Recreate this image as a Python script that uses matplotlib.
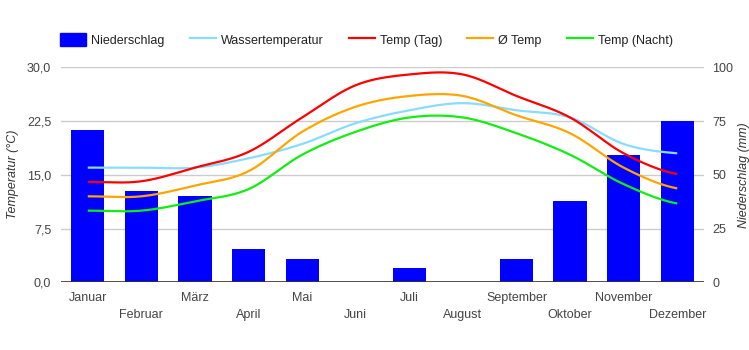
# Klimadiagramm: Niederschlag (Balken, rechte Achse) und Temperaturen (Linien, linke Achse)
import numpy as np
import matplotlib.pyplot as plt
from matplotlib.patches import Patch
from matplotlib.lines import Line2D

plt.rcParams['font.family'] = ['Liberation Sans', 'DejaVu Sans']

months = ['Januar', 'Februar', 'März', 'April', 'Mai', 'Juni',
          'Juli', 'August', 'September', 'Oktober', 'November', 'Dezember']
niederschlag = [71, 42.5, 40, 15.5, 11, 0.3, 6.8, 0.3, 11, 38, 59, 75]
wasser = [16, 16, 16, 17.3, 19.3, 22.2, 24, 25, 24, 23, 19.3, 18]
temp_tag = [14, 14.1, 16, 18.2, 23, 27.5, 29, 29, 26, 23, 18, 15.1]
temp_avg = [12, 12, 13.5, 15.5, 21, 24.5, 26, 26, 23.3, 20.8, 16, 13.1]
temp_nacht = [10, 10, 11.3, 13, 17.8, 21, 23, 23, 20.8, 17.8, 13.7, 11]

temp_ticks = [0, 7.5, 15, 22.5, 30]
mm_ticks = [0, 25, 50, 75, 100]


def smooth(y, steps=30):
    # Catmull-Rom Kurve durch die Monatswerte (nur Darstellung)
    y = np.asarray(y, dtype=float)
    p = np.concatenate([[y[0]], y, [y[-1]]])
    xs, ys = [], []
    for i in range(len(y) - 1):
        t = np.linspace(0, 1, steps, endpoint=False)
        p0, p1, p2, p3 = p[i], p[i + 1], p[i + 2], p[i + 3]
        yy = 0.5 * ((2 * p1) + (-p0 + p2) * t + (2 * p0 - 5 * p1 + 4 * p2 - p3) * t**2
                    + (-p0 + 3 * p1 - 3 * p2 + p3) * t**3)
        xs.append(i + t)
        ys.append(yy)
    xs.append([len(y) - 1])
    ys.append([y[-1]])
    return np.concatenate(xs), np.concatenate(ys)


fig = plt.figure(figsize=(7.49, 3.5), dpi=100)
ax_t = fig.add_axes([0.0814, 0.1934, 0.8586, 0.6143])
ax_p = ax_t.twinx()

x = np.arange(len(months))

# Balken + Gitter auf der rechten Achse
ax_p.bar(x, niederschlag, width=0.62, color='#0000ff', zorder=2)
ax_p.set_ylim(0, 100)
ax_p.set_yticks(mm_ticks)
ax_p.set_yticklabels([str(v) for v in mm_ticks])
ax_p.grid(axis='y', color='#cccccc', linewidth=1)
ax_p.set_axisbelow(True)
ax_p.set_ylabel('Niederschlag (mm)', style='italic', color='#333333', fontsize=9, labelpad=3)

# Linien auf der linken Achse, vor den Balken
ax_t.set_zorder(ax_p.get_zorder() + 1)
ax_t.patch.set_visible(False)
series = [(wasser, '#87dcff'), (temp_tag, '#ff0000'), (temp_avg, '#ffa500'), (temp_nacht, '#11ee11')]
for vals, col in series:
    xs, ys = smooth(vals)
    ax_t.plot(xs, ys, color=col, linewidth=1.6, solid_capstyle='butt')
ax_t.set_ylim(0, 30)
ax_t.set_yticks(temp_ticks)
ax_t.set_yticklabels([f'{v:.1f}'.replace('.', ',') for v in temp_ticks])
ax_t.set_ylabel('Temperatur (°C)', style='italic', color='#333333', fontsize=9, labelpad=6)

ax_t.set_xlim(-0.5, len(months) - 0.5)
ax_t.set_xticks(x)
ax_t.set_xticklabels([m if i % 2 == 0 else '\n' + m for i, m in enumerate(months)],
                     linespacing=1.6, va='top')

for a in (ax_t, ax_p):
    for s in a.spines.values():
        s.set_visible(False)
    a.tick_params(length=0, labelsize=9, labelcolor='#444444')
ax_t.tick_params(axis='y', pad=7)
ax_p.tick_params(axis='y', pad=6)
ax_t.tick_params(axis='x', pad=7)
ax_t.axhline(0, color='#333333', linewidth=1.2, zorder=5)

handles = [Patch(color='#0000ff'),
           Line2D([], [], color='#87dcff', linewidth=1.6),
           Line2D([], [], color='#ff0000', linewidth=1.6),
           Line2D([], [], color='#ffa500', linewidth=1.6),
           Line2D([], [], color='#11ee11', linewidth=1.6)]
labels = ['Niederschlag', 'Wassertemperatur', 'Temp (Tag)', 'Ø Temp', 'Temp (Nacht)']
leg = fig.legend(handles, labels, loc='center left', bbox_to_anchor=(0.08, 0.886), ncol=5,
                 frameon=False, fontsize=9, handlelength=2.1, handleheight=1.2,
                 handletextpad=0.4, columnspacing=2.0, labelcolor='#222222',
                 borderpad=0, borderaxespad=0)

fig.savefig('out.png', dpi=100)
